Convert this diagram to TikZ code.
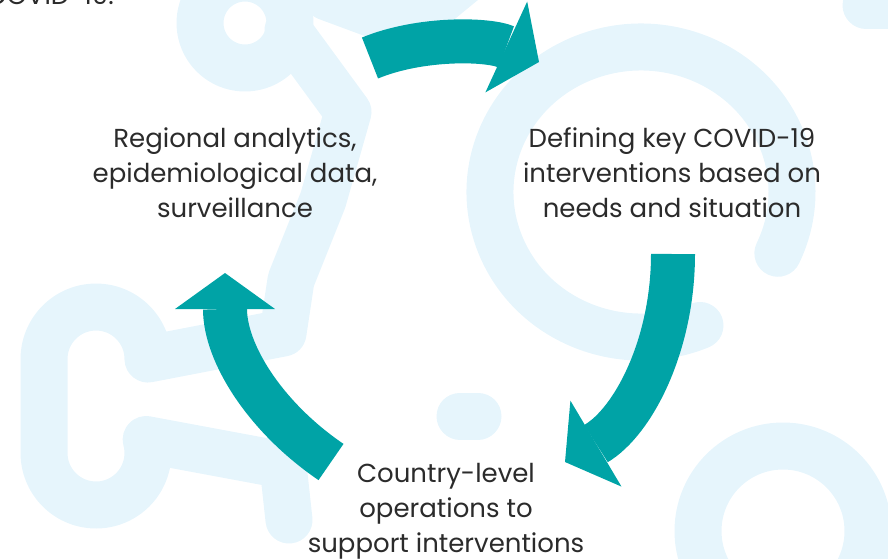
\documentclass[tikz,border=0pt]{standalone}
\usepackage{fontspec}
\setmainfont{Poppins}
\usetikzlibrary{arrows.meta}

\definecolor{cycleteal}{HTML}{00A3A6}
\definecolor{blobblue}{HTML}{E6F5FC}
\definecolor{textgray}{HTML}{2B2B2B}

\begin{document}
\begin{tikzpicture}[
    x=1pt, y=-1pt,
    stage/.style={align=center, inner sep=0pt, text=textgray, font=\fontsize{26}{34.7}\selectfont},
    blob/.style={draw=blobblue, line width=47pt, line cap=round, line join=round},
    cycle/.style={draw=cycleteal, line width=44pt, -{Triangle[width=100pt, length=36pt, line width=0pt]}}
]
\clip (0,0) rectangle (888,558);

% Background shapes
\draw[blob] (245,23) circle[radius=45];
\draw[blob] (288,30) -- (348,112) -- (323,200) -- (291,280) -- (283,333) -- (148,359)
    arc[start angle=0, end angle=-180, radius=52] -- (44,453)
    arc[start angle=180, end angle=-15, radius=52] -- (283,465) -- (289,520);
\draw[blob] (327,-3) -- (408,27) -- (475,-28);
\draw[blob] (641,192) ++(67:151 and 145) arc[start angle=67, end angle=385, x radius=151, y radius=145];
\draw[blob] (460,416) -- (478,416);
\draw[blob] (866,5) -- (930,5);
\draw[blob] (783,531) circle[radius=85];

% Nodes (base = last line)
\node[stage, anchor=base east] (covid) at (114,4) {COVID-19.};
\node[stage, anchor=base] (regional) at (235,217) {Regional analytics,\\epidemiological data,\\surveillance};
\node[stage, anchor=base] (defining) at (672,217) {Defining key COVID-19\\interventions based on\\needs and situation};
\node[stage, anchor=base] (country) at (446,552) {Country-level\\operations to\\support interventions};

% Arrow ends
\coordinate (topTail) at (370,58);
\coordinate (topTip) at (539,62);
\coordinate (rightTail) at (673,254);
\coordinate (rightTip) at (565,462);
\coordinate (leftTail) at (331,462);
\coordinate (leftTip) at (225,273);

% Cycle arrows
\draw[cycle] (topTail) .. controls (421,37) and (489,39) .. (topTip);
\draw[cycle] (rightTail) .. controls (673,344) and (634,421) .. (rightTip);
\draw[cycle] (leftTail) .. controls (265,417) and (225,353) .. (leftTip);

\end{tikzpicture}
\end{document}
